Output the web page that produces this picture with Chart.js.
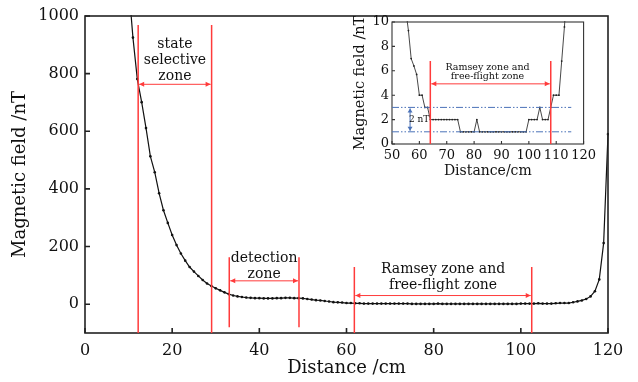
<!DOCTYPE html>
<html>
<head>
<meta charset="utf-8">
<script src="https://cdn.jsdelivr.net/npm/chart.js@4.4.0/dist/chart.umd.min.js"></script>
<style>
  html, body { margin: 0; padding: 0; background: #fff; }
  #wrap { position: relative; width: 638px; height: 382px; }
  #mainChart { position: absolute; left: 0; top: 0; }
  #insetChart { position: absolute; left: 350px; top: 0; }
</style>
</head>
<body>
<div id="wrap">
  <canvas id="mainChart" width="638" height="382"></canvas>
  <canvas id="insetChart" width="250" height="185"></canvas>
</div>
<script>
// measured field along the beam line (cm, nT)
const distance = [
  10, 11, 12, 13, 14, 15, 16, 17, 18, 19,
  20, 21, 22, 23, 24, 25, 26, 27, 28, 29,
  30, 31, 32, 33, 34, 35, 36, 37, 38, 39,
  40, 41, 42, 43, 44, 45, 46, 47, 48, 49,
  50, 51, 52, 53, 54, 55, 56, 57, 58, 59,
  60, 61, 62, 63, 64, 65, 66, 67, 68, 69,
  70, 71, 72, 73, 74, 75, 76, 77, 78, 79,
  80, 81, 82, 83, 84, 85, 86, 87, 88, 89,
  90, 91, 92, 93, 94, 95, 96, 97, 98, 99,
  100, 101, 102, 103, 104, 105, 106, 107, 108, 109,
  110, 111, 112, 113, 114, 115, 116, 117, 118, 119,
  120
];
const field = [
  1110, 925, 781, 701, 611, 513, 458, 385, 326, 282,
  240, 205, 176, 151, 129, 113, 98, 84, 72, 63,
  55, 48, 41, 35, 30, 27, 25, 23, 22, 21,
  21, 20, 20, 20, 21, 21, 22, 22, 21, 21,
  20, 18, 16, 14, 13, 11, 9.3, 7, 6.4, 5.7,
  4, 4, 3, 3, 2, 2, 2, 2, 2, 2,
  2, 2, 2, 2, 2, 1, 1, 1, 1, 1,
  1, 2, 1, 1, 1, 1, 1, 1, 1, 1,
  1, 1, 1, 1, 1, 1, 1, 1, 1, 1,
  2, 2, 2, 2, 3, 2, 2, 2, 3, 4,
  4, 4, 6.8, 9.6, 13, 18, 27, 45, 86, 212,
  590
];

const mainXTicks = [0, 20, 40, 60, 80, 100, 120];
const mainYTicks = [0, 200, 400, 600, 800, 1000];
const insetXTicks = [50, 60, 70, 80, 90, 100, 110, 120];
const insetYTicks = [0, 2, 4, 6, 8, 10];

const zoneStart = [12.2, 33.1, 61.8];
const zoneEnd = [29.05, 49.1, 102.5];
const zoneLabels = [["state", "selective", "zone"], ["detection", "zone"], ["Ramsey zone and", "free-flight zone"]];
const insetZone = [64, 108];
const insetLabel = ["Ramsey zone and", "free-flight zone"];
const bandLimits = [1, 3];

const FONT = "'DejaVu Serif', 'Liberation Serif', serif";
const RED = "#ff3b3b";
const BLUE = "#4a72b8";

const points = distance.map((d, i) => ({ x: d, y: field[i] }));
const plain = v => String(v);

function arrowH(ctx, x1, x2, y, len, half) {
  ctx.beginPath();
  ctx.moveTo(x1, y); ctx.lineTo(x2, y);
  ctx.stroke();
  ctx.beginPath();
  ctx.moveTo(x1, y); ctx.lineTo(x1 + len, y - half); ctx.lineTo(x1 + len, y + half); ctx.closePath();
  ctx.moveTo(x2, y); ctx.lineTo(x2 - len, y - half); ctx.lineTo(x2 - len, y + half); ctx.closePath();
  ctx.fill();
}

function arrowV(ctx, x, y1, y2, len, half) {
  ctx.beginPath();
  ctx.moveTo(x, y1); ctx.lineTo(x, y2);
  ctx.stroke();
  ctx.beginPath();
  ctx.moveTo(x, y1); ctx.lineTo(x - half, y1 + len); ctx.lineTo(x + half, y1 + len); ctx.closePath();
  ctx.moveTo(x, y2); ctx.lineTo(x - half, y2 - len); ctx.lineTo(x + half, y2 - len); ctx.closePath();
  ctx.fill();
}

// box around the plot with inward ticks
function framePlugin(color, width, tickLen) {
  return {
    id: "frame",
    afterDatasetsDraw(chart) {
      const { ctx, chartArea: a, scales: { x, y } } = chart;
      ctx.save();
      ctx.strokeStyle = color;
      ctx.lineWidth = width;
      ctx.strokeRect(a.left, a.top, a.right - a.left, a.bottom - a.top);
      ctx.beginPath();
      x.ticks.forEach(t => {
        const px = x.getPixelForValue(t.value);
        ctx.moveTo(px, a.bottom); ctx.lineTo(px, a.bottom - tickLen);
      });
      y.ticks.forEach(t => {
        const py = y.getPixelForValue(t.value);
        ctx.moveTo(a.left, py); ctx.lineTo(a.left + tickLen, py);
      });
      ctx.stroke();
      ctx.restore();
    }
  };
}

// zone markers of the main plot
const zoneStyle = [
  { top: 969, bottom: -100, arrow: 763, gap: 4, lead: 16 },
  { top: 163, bottom: -80, arrow: 81, gap: 3, lead: 15.6 },
  { top: 129, bottom: -100, arrow: 30, gap: 7, lead: 15.6 }
];

const mainMarks = {
  id: "mainMarks",
  afterDatasetsDraw(chart) {
    const { ctx, scales: { x, y } } = chart;
    ctx.save();
    zoneStart.forEach((s, i) => {
      const st = zoneStyle[i];
      const x1 = x.getPixelForValue(s);
      const x2 = x.getPixelForValue(zoneEnd[i]);
      const yt = y.getPixelForValue(st.top);
      const yb = y.getPixelForValue(st.bottom);
      const ya = y.getPixelForValue(st.arrow);
      ctx.strokeStyle = RED;
      ctx.fillStyle = RED;
      ctx.lineWidth = 1.5;
      ctx.beginPath();
      ctx.moveTo(x1, yt); ctx.lineTo(x1, yb);
      ctx.moveTo(x2, yt); ctx.lineTo(x2, yb);
      ctx.stroke();
      ctx.lineWidth = 1;
      arrowH(ctx, x1 + 1, x2 - 1, ya, 5, 2.5);
      ctx.fillStyle = "#111";
      ctx.font = "14px " + FONT;
      ctx.textAlign = "center";
      ctx.textBaseline = "alphabetic";
      const lines = zoneLabels[i];
      const cx = (x1 + x2) / 2;
      lines.forEach((t, k) => {
        ctx.fillText(t, cx, ya - st.gap - st.lead * (lines.length - 1 - k));
      });
    });
    ctx.restore();
  }
};

const insetMarks = {
  id: "insetMarks",
  afterDatasetsDraw(chart) {
    const { ctx, scales: { x, y } } = chart;
    ctx.save();
    // 2 nT band
    ctx.strokeStyle = BLUE;
    ctx.lineWidth = 1;
    ctx.setLineDash([7, 2, 1.5, 2, 1.5, 2]);
    ctx.beginPath();
    bandLimits.forEach(v => {
      const py = y.getPixelForValue(v);
      ctx.moveTo(x.getPixelForValue(50), py);
      ctx.lineTo(x.getPixelForValue(115.5), py);
    });
    ctx.stroke();
    ctx.setLineDash([]);
    ctx.fillStyle = BLUE;
    arrowV(ctx, x.getPixelForValue(56.6), y.getPixelForValue(bandLimits[1]) + 1, y.getPixelForValue(bandLimits[0]) - 1, 4, 2.5);
    ctx.fillStyle = "#111";
    ctx.font = "9px " + FONT;
    ctx.textAlign = "right";
    ctx.textBaseline = "middle";
    ctx.fillText("2 nT", x.getPixelForValue(insetZone[0]) - 1, y.getPixelForValue(2));
    // Ramsey zone
    const x1 = x.getPixelForValue(insetZone[0]);
    const x2 = x.getPixelForValue(insetZone[1]);
    const yt = y.getPixelForValue(6.8);
    const yb = y.getPixelForValue(0);
    const ya = y.getPixelForValue(4.93);
    ctx.strokeStyle = RED;
    ctx.fillStyle = RED;
    ctx.lineWidth = 1.5;
    ctx.beginPath();
    ctx.moveTo(x1, yt); ctx.lineTo(x1, yb);
    ctx.moveTo(x2, yt); ctx.lineTo(x2, yb);
    ctx.stroke();
    ctx.lineWidth = 1;
    arrowH(ctx, x1 + 1, x2 - 1, ya, 5, 2.5);
    ctx.fillStyle = "#111";
    ctx.font = "9.5px " + FONT;
    ctx.textAlign = "center";
    ctx.textBaseline = "alphabetic";
    const cx = (x1 + x2) / 2 - 3;
    ctx.fillText(insetLabel[0], cx, ya - 4.7 - 9.5);
    ctx.fillText(insetLabel[1], cx, ya - 4.7);
    ctx.restore();
  }
};

new Chart(document.getElementById("mainChart"), {
  type: "line",
  data: {
    datasets: [{
      data: points,
      borderColor: "#111",
      borderWidth: 1.2,
      pointRadius: 1.3,
      pointBackgroundColor: "#111",
      pointBorderWidth: 0,
      tension: 0,
      clip: 1
    }]
  },
  options: {
    responsive: false,
    animation: false,
    devicePixelRatio: 1,
    layout: { padding: { top: 16, right: 30, left: 0, bottom: 0 } },
    plugins: { legend: { display: false }, tooltip: { enabled: false } },
    scales: {
      x: {
        type: "linear",
        min: 0,
        max: 120,
        afterBuildTicks: s => { s.ticks = mainXTicks.map(v => ({ value: v })); },
        afterFit: s => { s.height = 49; },
        grid: { display: false, drawTicks: false },
        border: { display: false },
        ticks: { color: "#111", font: { family: FONT, size: 16 }, padding: 8, autoSkip: false, maxRotation: 0, callback: plain },
        title: { display: true, text: "Distance /cm", color: "#111", font: { family: FONT, size: 18 }, padding: { top: 0, bottom: 3 } }
      },
      y: {
        min: -100,
        max: 1000,
        afterBuildTicks: s => { s.ticks = mainYTicks.map(v => ({ value: v })); },
        afterFit: s => { s.width = 85; },
        grid: { display: false, drawTicks: false },
        border: { display: false },
        ticks: { color: "#111", font: { family: FONT, size: 16 }, padding: 6, autoSkip: false, callback: plain },
        title: { display: true, text: "Magnetic field /nT", color: "#111", font: { family: FONT, size: 18 }, padding: { top: 10, bottom: 0 } }
      }
    }
  },
  plugins: [framePlugin("#222", 1.6, 5), mainMarks]
});

new Chart(document.getElementById("insetChart"), {
  type: "line",
  data: {
    datasets: [{
      data: points,
      borderColor: "#333",
      borderWidth: 0.9,
      pointRadius: 0.9,
      pointBackgroundColor: "#222",
      pointBorderWidth: 0,
      tension: 0,
      clip: 1
    }]
  },
  options: {
    responsive: false,
    animation: false,
    devicePixelRatio: 1,
    layout: { padding: { top: 22, right: 12, left: 0, bottom: 0 } },
    plugins: { legend: { display: false }, tooltip: { enabled: false } },
    scales: {
      x: {
        type: "linear",
        min: 50,
        max: 120,
        afterBuildTicks: s => { s.ticks = insetXTicks.map(v => ({ value: v })); },
        afterFit: s => { s.height = 41; },
        grid: { display: false, drawTicks: false },
        border: { display: false },
        ticks: { color: "#111", font: { family: FONT, size: 13 }, padding: 4, autoSkip: false, maxRotation: 0, callback: plain },
        title: { display: true, text: "Distance/cm", color: "#111", font: { family: FONT, size: 14 }, padding: { top: 0, bottom: 5 } }
      },
      y: {
        min: 0,
        max: 10,
        afterBuildTicks: s => { s.ticks = insetYTicks.map(v => ({ value: v })); },
        afterFit: s => { s.width = 42; },
        grid: { display: false, drawTicks: false },
        border: { display: false },
        ticks: { color: "#111", font: { family: FONT, size: 13 }, padding: 3, autoSkip: false, callback: plain },
        title: { display: true, text: "Magnetic field /nT", color: "#111", font: { family: FONT, size: 14.5 }, padding: { top: 2, bottom: 0 } }
      }
    }
  },
  plugins: [framePlugin("#333", 1.1, 3), insetMarks]
});
</script>
</body>
</html>
